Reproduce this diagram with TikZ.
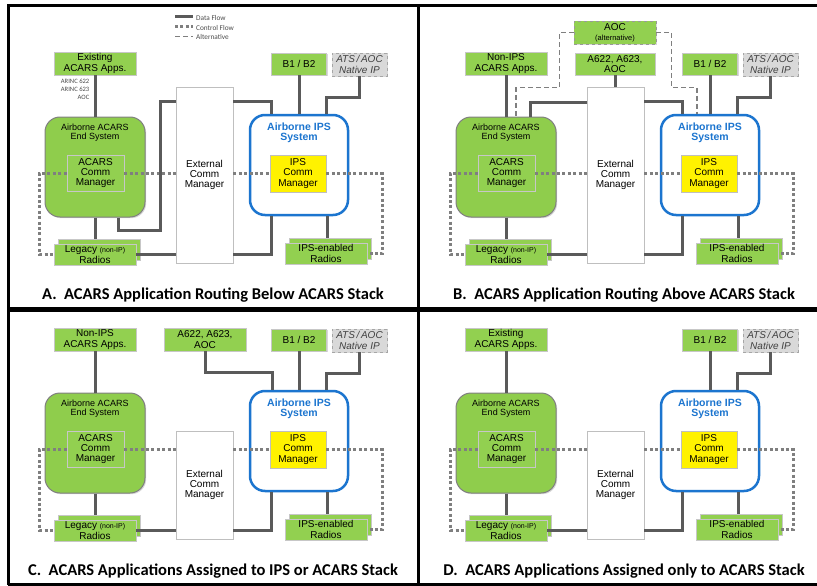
\documentclass[tikz,border=0pt]{standalone}
\usepackage{fontspec}
\setmainfont{Liberation Sans}
\newfontfamily\calfont{Carlito}
\usetikzlibrary{shadows,calc}
\definecolor{grn}{HTML}{92D050}
\definecolor{acsg}{HTML}{8FCD4C}
\definecolor{ipsblue}{HTML}{1C75CF}
\definecolor{linegray}{HTML}{5A5A5A}
\definecolor{dotgray}{HTML}{7F7F7F}
\definecolor{atsfill}{HTML}{D9D9D9}
\tikzset{
  x=1pt, y=-1pt,
  shd/.style={drop shadow={shadow xshift=1.2pt, shadow yshift=-1.2pt, opacity=0.3}},
  gbox/.style={draw=black!22, fill=grn, line width=0.7pt, inner sep=0pt, align=center,
    font=\fontsize{10}{10.3}\selectfont, shd},
  rw/.style={minimum width=82pt, minimum height=21pt},
  atsbox/.style={draw=black!35, dashed, fill=atsfill, line width=0.8pt, inner sep=0pt, align=center,
    text=black!75, font=\itshape\fontsize{10}{10.3}\selectfont, shd},
  extbox/.style={draw=black!25, fill=white, line width=0.7pt, inner sep=0pt, align=center,
    font=\fontsize{10}{10.3}\selectfont, shd},
  acsbox/.style={draw=black!50, fill=acsg, line width=1pt, rounded corners=15pt, inner sep=0pt, shd},
  acstitle/.style={inner sep=0pt, align=center, font=\fontsize{9}{8.6}\selectfont},
  ipsbox/.style={draw=ipsblue, fill=white, line width=2.5pt, rounded corners=15pt, inner sep=0pt},
  ipstitle/.style={inner sep=0pt, align=center, text=ipsblue, font=\bfseries\fontsize{10.5}{10}\selectfont},
  ybox/.style={draw=black!25, fill=yellow, line width=0.7pt, inner sep=0pt, align=center,
    font=\fontsize{10}{10.3}\selectfont, shd},
  data/.style={draw=linegray, line width=3pt},
  ctrl/.style={draw=dotgray, line width=3pt, dash pattern=on 3pt off 2.4pt},
  alt/.style={draw=dotgray, line width=1.8pt, dash pattern=on 5pt off 3pt},
  frame/.style={draw=black, line width=3pt},
  caption/.style={inner sep=0pt, font=\calfont\bfseries\fontsize{16.5}{18}\selectfont},
  smalltxt/.style={inner sep=0pt, text=black!70, font=\calfont\fontsize{7.3}{8}\selectfont},
}
\newcommand\corepanel[4]{%
  \node[gbox, minimum width=82pt, minimum height=23pt] (#1app) at (95,63.5) {#2};
  \node[gbox, minimum width=55pt, minimum height=22pt] (#1b1) at (299,64) {B1 / B2};
  \node[atsbox, minimum width=55pt, minimum height=23pt] (#1ats) at (359.5,64.5) {ATS\,/\,AOC\\Native IP};
  \node[extbox, minimum width=57pt, minimum height=#4pt] (#1ext) at (204.5,#3) {External\\Comm\\Manager};
  \node[acsbox, minimum width=100pt, minimum height=100pt] (#1acs) at (95,167) {};
  \node[acstitle] (#1acst) at (95,132.5) {Airborne ACARS\\End System};
  \node[gbox, minimum width=57pt, minimum height=36pt] (#1acm) at (95.5,173) {ACARS\\Comm\\Manager};
  \node[ipsbox, minimum width=98pt, minimum height=100pt] (#1ips) at (299,165) {};
  \node[ipstitle] (#1ipst) at (299,133) {Airborne IPS\\System};
  \node[ybox, minimum width=56pt, minimum height=37pt] (#1ipsm) at (298,173.5) {IPS\\Comm\\Manager};
  \node[gbox, rw] (#1legb) at (99,249.5) {};
  \node[gbox, rw] (#1leg) at (95,254.5) {Legacy {\fontsize{7}{7}\selectfont(non-IP)}\\Radios};
  \node[gbox, rw] (#1ipsrb) at (330,248.5) {};
  \node[gbox, rw] (#1ipsr) at (326,253.5) {IPS-enabled\\Radios};
  \coordinate (#1ipsin) at ([xshift=27pt]#1ips.north);
  \coordinate (#1ipsout) at ([xshift=28pt]#1ips.south);
  \coordinate (#1ipsbl) at ([xshift=-28pt]#1ips.south);
  \draw[data] (#1app) -- (#1acs);
  \draw[data] (#1b1.south) -- (#1b1.south |- #1ips.north);
  \draw[data] (#1ats.south) -- ++(0,21) -| (#1ipsin);
  \draw[data] (#1acs.south) -- (#1acs.south |- #1legb.north);
  \draw[data] (#1ipsout) -- (#1ipsout |- #1ipsrb.north);
  \draw[data] (#1leg.east) -- (#1leg.east -| #1ext.west);
  \draw[data] (#1ipsbl) |- (#1ext.east |- #1leg.east);
  \draw[ctrl] (#1acm.west) -- ++(-27,0) |- (#1leg.west);
  \draw[ctrl] (#1acm.east) -- (#1acm.east -| #1ext.west);
  \draw[ctrl] (#1ext.east |- #1ipsm.west) -- (#1ipsm.west);
  \draw[ctrl] (#1ipsm.east) -- ++(56,0) |- (#1ipsr.east);
}
\begin{document}
\begin{tikzpicture}
\useasboundingbox (0,0) rectangle (817,586);
\fill[white] (0,0) rectangle (817,586);
% ---------- Panel A ----------
\begin{scope}
  \corepanel{A}{Existing\\ACARS Apps.}{175}{176}
  \coordinate (Aipsl) at ([xshift=-28pt]Aips.north);
  \draw[data] ([yshift=-15pt]Aext.north east) -| (Aipsl);
  \draw[data] ([xshift=23pt]Aacs.south) -- ++(0,13) -- ++(42,0) |- ([yshift=-15pt]Aext.north west);
  \node[smalltxt, anchor=north east, align=right, font=\calfont\fontsize{6.6}{8}\selectfont] (Aarinc) at (89.5,78.5) {ARINC 622\\ARINC 623\\AOC};
  \coordinate (Ll1a) at (175,16.5); \coordinate (Ll1b) at (193,16.5);
  \coordinate (Ll2a) at (175,27); \coordinate (Ll2b) at (193,27);
  \coordinate (Ll3a) at (175,36.5); \coordinate (Ll3b) at (193,36.5);
  \draw[data] (Ll1a) -- (Ll1b);
  \draw[ctrl] (Ll2a) -- (Ll2b);
  \draw[alt] (Ll3a) -- (Ll3b);
  \node[smalltxt, anchor=west] (Lt1) at (196,17.5) {Data Flow};
  \node[smalltxt, anchor=west] (Lt2) at (196,27.5) {Control Flow};
  \node[smalltxt, anchor=west] (Lt3) at (196,37) {Alternative};
  \node[caption] (Acap) at (213,295) {A.\ \ ACARS Application Routing Below ACARS Stack};
\end{scope}
% ---------- Panel B ----------
\begin{scope}[shift={(411,0)}]
  \corepanel{B}{Non-IPS\\ACARS Apps.}{175}{176}
  \node[gbox, minimum width=80pt, minimum height=22pt] (Ba622) at (204,64) {A622, A623,\\AOC};
  \node[gbox, dashed, draw=black!40, line width=0.9pt, minimum width=82pt, minimum height=23pt] (Baoc) at (204,32.5) {AOC\\{\fontsize{7.5}{8}\selectfont(alternative)}};
  \draw[data] (Ba622.south) -- (Ba622.south |- Bext.north);
  \coordinate (Bipsl) at ([xshift=-28pt]Bips.north);
  \coordinate (Bipsd) at ([xshift=-13pt]Bips.north);
  \coordinate (Bacsr) at ([xshift=24pt]Bacs.north);
  \coordinate (Bacsd) at ([xshift=10pt]Bacs.north);
  \draw[data] ([yshift=-15pt]Bext.north east) -| (Bipsl);
  \draw[data] ([yshift=-16pt]Bext.north west) -| (Bacsr);
  \draw[alt] (Baoc.west) -- ++(-14,0) -- ++(0,55) -| (Bacsd);
  \draw[alt] (Baoc.east) -- ++(15,0) -- ++(0,55) -| (Bipsd);
  \node[caption] (Bcap) at (213,295) {B.\ \ ACARS Application Routing Above ACARS Stack};
\end{scope}
% ---------- Panel C ----------
\begin{scope}[shift={(0,276)}]
  \corepanel{C}{Non-IPS\\ACARS Apps.}{209}{108}
  \node[gbox, minimum width=82pt, minimum height=23pt] (Ca622) at (205,63.5) {A622, A623,\\AOC};
  \coordinate (Cipsl) at ([xshift=-27pt]Cips.north);
  \draw[data] (Ca622.south) -- ++(0,21) -| (Cipsl);
  \node[caption] (Ccap) at (213,295.5) {C.\ \ ACARS Applications Assigned to IPS or ACARS Stack};
\end{scope}
% ---------- Panel D ----------
\begin{scope}[shift={(411,276)}]
  \corepanel{D}{Existing\\ACARS Apps.}{209}{108}
  \node[caption] (Dcap) at (213,295.5) {D.\ \ ACARS Applications Assigned only to ACARS Stack};
\end{scope}
% ---------- frames ----------
\draw[frame] (8,584.5) -- (8,5.5) -- (817,5.5);
\draw[frame] (8,584.5) -- (817,584.5);
\draw[frame] (418.5,5.5) -- (418.5,584.5);
\draw[frame, line width=4.5pt] (8,309.5) -- (817,309.5);
\end{tikzpicture}
\end{document}
